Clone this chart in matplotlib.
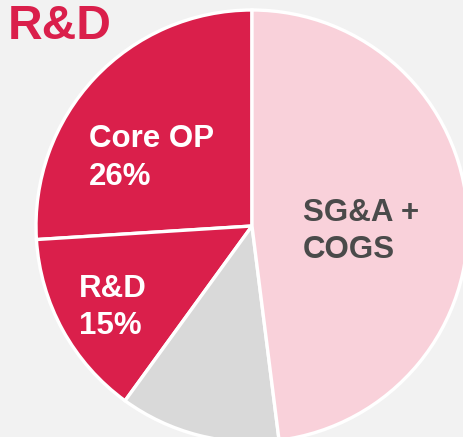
import matplotlib.pyplot as plt

# slices, counter-clockwise from 12 o'clock
segments = ["Core OP", "R&D", "Other", "SG&A + COGS"]
shares = [26, 14, 12, 48]
labels = ["Core OP\n26%", "R&D\n15%", "", "SG&A +\nCOGS"]
colors = ["#DA1F4B", "#DA1F4B", "#D9D9D9", "#F9D1DA"]
label_colors = ["white", "white", "white", "#4A4A4A"]
label_pos = [(-0.755, 0.47), (-0.80, -0.222), (0, 0), (0.236, 0.13)]

W, H = 463, 437
cx, cy, r = 252, 226, 216

plt.rcParams["font.family"] = ["Liberation Sans", "DejaVu Sans"]
fig = plt.figure(figsize=(W / 100, H / 100), dpi=100)
fig.patch.set_facecolor("#F2F2F2")

ax = fig.add_axes([(cx - r) / W, (H - cy - r) / H, 2 * r / W, 2 * r / H])
ax.pie(shares, colors=colors, startangle=90, counterclock=True, radius=1,
       wedgeprops=dict(edgecolor="white", linewidth=2.4))
ax.set_xlim(-1, 1)
ax.set_ylim(-1, 1)
ax.set_aspect("equal")
ax.axis("off")

for lab, col, (x, y) in zip(labels, label_colors, label_pos):
    if lab:
        ax.text(x, y, lab, color=col, fontsize=22.5, fontweight="bold",
                ha="left", va="top", linespacing=1.32)

fig.text(8 / W, 1 - 4 / H, "R&D", color="#DA1F4B", fontsize=34.5,
         fontweight="bold", ha="left", va="top")

fig.savefig("out.png", dpi=100, facecolor=fig.get_facecolor())
